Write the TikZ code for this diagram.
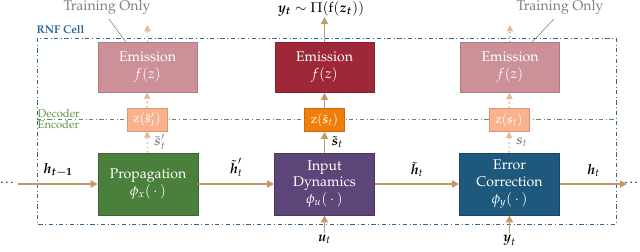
\documentclass[tikz,border=0pt]{standalone}
\usepackage{amsmath,amssymb}
\usepackage[T1]{fontenc}
\usepackage{mathpazo}
\usepackage{xcolor}
\usepackage{tikz}
\usetikzlibrary{calc,arrows.meta,positioning}
\definecolor{arc}{HTML}{C4996A}
\definecolor{arl}{HTML}{DDBC9C}
\definecolor{emic}{HTML}{9E2837}
\definecolor{emil}{HTML}{CC9198}
\definecolor{zc}{HTML}{F07E0A}
\definecolor{zl}{HTML}{F9B38C}
\definecolor{propc}{HTML}{4B7F3C}
\definecolor{inpc}{HTML}{5D4577}
\definecolor{errc}{HTML}{1E587D}
\definecolor{cellc}{HTML}{2F6690}
\definecolor{encc}{HTML}{5E9148}
\tikzset{
  ar/.style={-{Triangle[length=1.8mm,width=1.8mm]},line width=1.4pt,arc},
  arf/.style={-{Triangle[length=1.6mm,width=1.6mm]},line width=1.2pt,arl,dotted},
  blk/.style={draw=#1!80!black,fill=#1,text=white,align=center,inner sep=2pt,
    minimum width=2.5cm,minimum height=1.55cm},
  emi/.style={draw=#1!85!black,fill=#1,text=white,align=center,inner sep=2pt,
    minimum width=2.475cm,minimum height=1.25cm},
  zbox/.style={draw=#1!85!black,fill=#1,text=white,inner sep=1pt,
    minimum width=1cm,minimum height=0.575cm,font=\small}
}

\begin{document}
\begin{tikzpicture}[x=0.025cm,y=-0.025cm]
\useasboundingbox (0,0) rectangle (640,251);
% frames
\draw[cellc,dash dot,thin] (37,38) rectangle (616,224);
\node[cellc,font=\footnotesize\bfseries,anchor=south west,inner sep=1pt] (cell) at (35,35) {RNF Cell};
\draw[encc,dash dot,thin] (37,119) -- (616,119);
\node[encc,font=\footnotesize,anchor=south west,inner sep=1pt] (dec) at (36,119) {Decoder};
\node[encc,font=\footnotesize,anchor=north west,inner sep=1pt] (enc) at (36,119) {Encoder};
% blocks
\node[blk=propc] (prop) at (148,184) {Propagation\\$\phi_x(\,\cdot\,)$};
\node[blk=inpc] (inp) at (324.5,184) {Input\\Dynamics\\$\phi_u(\,\cdot\,)$};
\node[blk=errc] (err) at (509.5,184) {Error\\Correction\\$\phi_y(\,\cdot\,)$};
\node[zbox=zl] (z1) at (147,119.5) {z$(\tilde{\boldsymbol{s}}'_t)$};
\node[zbox=zc] (z2) at (324.5,120) {z$(\tilde{\boldsymbol{s}}_t)$};
\node[zbox=zl] (z3) at (509,120) {z$(\boldsymbol{s}_t)$};
\node[emi=emil] (em1) at (147.5,67) {Emission\\$f(z)$};
\node[emi=emic] (em2) at (324.5,67.5) {Emission\\$f(z)$};
\node[emi=emil] (em3) at (510,67.5) {Emission\\$f(z)$};
% outer ends
\coordinate (hin) at (18,184);
\coordinate (hout) at (627,184);
\coordinate (uin) at (324.5,233);
\coordinate (yin) at (509.5,233);
\coordinate (top1) at (147.5,25);
\coordinate (top2) at (324.5,17);
\coordinate (top3) at (510,25);
\node[inner sep=0pt,anchor=west,font=\small] (dl) at (0,183) {\dots};
\node[inner sep=0pt,anchor=east,font=\small] (dr) at (640,183) {\dots};
% recurrent path
\draw[ar] (hin) -- node[above=1pt,text=black]{$\boldsymbol{h_{t-1}}$} (prop);
\draw[ar] (prop) -- node[above=1pt,text=black]{$\tilde{\boldsymbol{h}}'_t$} (inp);
\draw[ar] (inp) -- node[above=1pt,text=black]{$\tilde{\boldsymbol{h}}_t$} (err);
\draw[ar] (err) -- node[above=1pt,text=black]{$\boldsymbol{h}_t$} (hout);
\draw[ar] (uin) -- (inp);
\draw[ar] (yin) -- (err);
\node[below,inner sep=1pt] (ulab) at (uin) {$\boldsymbol{u}_t$};
\node[below,inner sep=1pt] (ylab) at (yin) {$\boldsymbol{y}_t$};
% decoder paths
\draw[arf] (prop) -- node[right=1pt,text=gray]{$\tilde{\boldsymbol{s}}'_t$} (z1);
\draw[arf] (z1) -- (em1);
\draw[arf] (em1) -- (top1);
\draw[ar] (inp) -- node[right=1pt,text=black]{$\tilde{\boldsymbol{s}}_t$} (z2);
\draw[ar] (z2) -- (em2);
\draw[ar] (em2) -- (top2);
\draw[arf] (err) -- node[right=1pt,text=gray]{$\boldsymbol{s}_t$} (z3);
\draw[arf] (z3) -- (em3);
\draw[arf] (em3) -- (top3);
% top labels
\node (out) at (321,9) {$\boldsymbol{y_t} \sim \Pi(\mathrm{f}(\boldsymbol{z_t}))$};
\node[gray] (tr1) at (107,7) {Training Only};
\node[gray] (tr3) at (560,7) {Training Only};
\draw[gray,thin] (tr1.south) ++(2,0) -- ($(em1.north west)!0.28!(em1.north east)$);
\draw[gray,thin] (tr3.south) ++(-6,0) -- ($(em3.north west)!0.72!(em3.north east)$);
\end{tikzpicture}
\end{document}
